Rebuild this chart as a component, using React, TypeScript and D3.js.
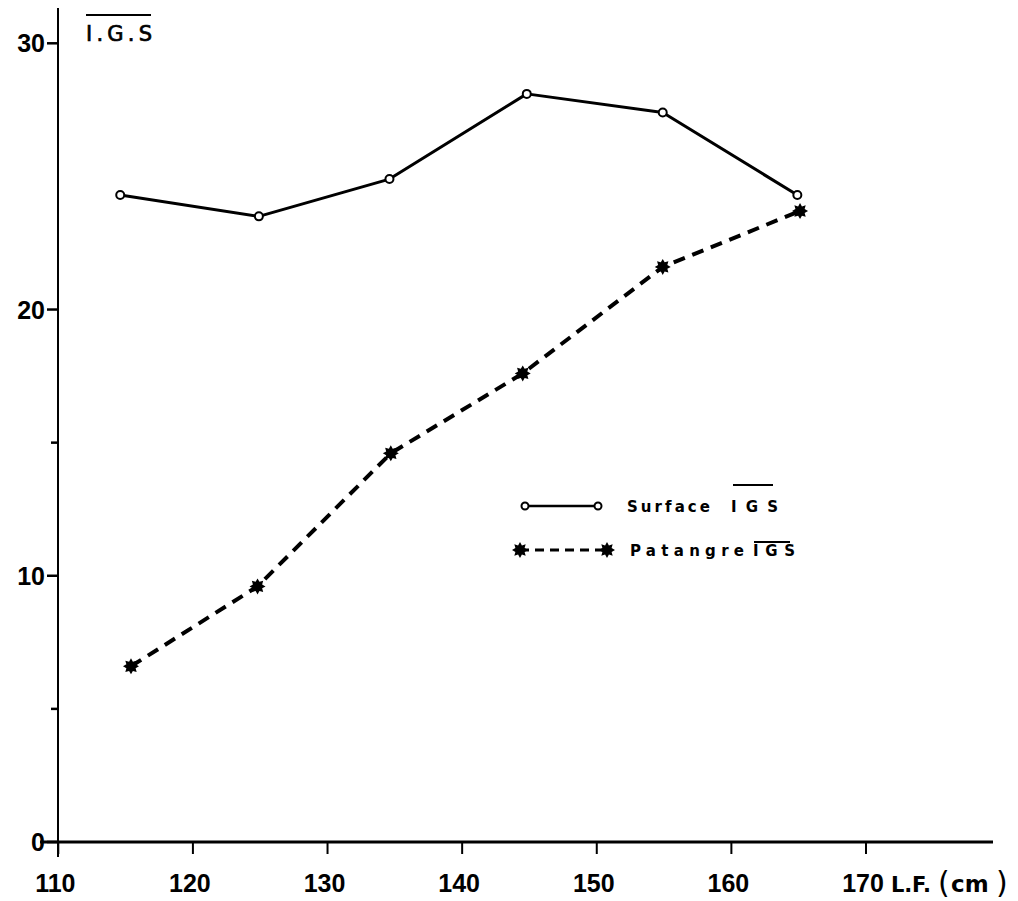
import React from "react";
import * as d3 from "d3";

// Mean gonado-somatic index (I.G.S) by fork length class (L.F, cm)
const surfaceLength = [114.6, 124.9, 134.6, 144.8, 154.9, 164.9];
const surfaceIGS = [24.3, 23.5, 24.9, 28.1, 27.4, 24.3];

const palangreLength = [115.4, 124.8, 134.7, 144.5, 154.9, 165.1];
const palangreIGS = [6.6, 9.6, 14.6, 17.6, 21.6, 23.7];

const xTicks = [110, 120, 130, 140, 150, 160, 170];
const yTicks = [0, 10, 20, 30];
const yMinorTicks = [5, 15];

const W = 1018;
const H = 901;
const FONT = "'DejaVu Sans', 'Liberation Sans', Arial, sans-serif";
const TICK_FONT = "'Liberation Sans', Arial, sans-serif";

// 8-pointed burst used as the longline marker
function burstPath(r: number, inner: number, spikes = 8): string {
  const pts: [number, number][] = [];
  for (let i = 0; i < spikes * 2; i++) {
    const a = (Math.PI * i) / spikes;
    const rr = i % 2 === 0 ? r : inner;
    pts.push([a, rr]);
  }
  return (d3.lineRadial().curve(d3.curveLinearClosed)(pts) as string) || "";
}

export default function App() {
  const x = d3.scaleLinear().domain([110, 170]).range([58.3, 866]);
  const y = d3.scaleLinear().domain([0, 30]).range([842, 43.3]);

  const surfacePts = surfaceLength.map((l, i) => [x(l), y(surfaceIGS[i])] as [number, number]);
  const palangrePts = palangreLength.map((l, i) => [x(l), y(palangreIGS[i])] as [number, number]);
  const line = d3.line();
  const burst = burstPath(8, 5);

  const tickText = {
    fontFamily: TICK_FONT,
    fontWeight: "bold" as const,
    fontSize: 25,
    fill: "#000",
  };

  return (
    <svg
      width={W}
      height={H}
      viewBox={`0 0 ${W} ${H}`}
      style={{ position: "absolute", left: 0, top: 0, background: "#fff" }}
    >
      <rect width={W} height={H} fill="#fff" />

      {/* axes */}
      <line x1={58} y1={8} x2={58} y2={857} stroke="#000" strokeWidth={2} />
      <line x1={40} y1={842} x2={993} y2={842} stroke="#000" strokeWidth={3} />

      {yTicks.map((t) => (
        <g key={`yt${t}`}>
          <line x1={47} x2={58} y1={y(t)} y2={y(t)} stroke="#000" strokeWidth={2.5} />
          <text x={45} y={y(t) + 9} textAnchor="end" {...tickText}>
            {t}
          </text>
        </g>
      ))}
      {yMinorTicks.map((t) => (
        <line key={`ym${t}`} x1={51} x2={58} y1={y(t)} y2={y(t)} stroke="#000" strokeWidth={2.5} />
      ))}

      {xTicks.map((t) => (
        <g key={`xt${t}`}>
          <line x1={x(t)} x2={x(t)} y1={842} y2={854} stroke="#000" strokeWidth={2} />
          <text x={x(t) - 3} y={892} textAnchor="middle" {...tickText}>
            {t}
          </text>
        </g>
      ))}

      {/* x axis title */}
      <text x={891} y={892} fontFamily={FONT} fontWeight="bold" fontSize={21} fill="#000" textLength={40} lengthAdjust="spacing">
        L.F.
      </text>
      <text x={938} y={893} fontFamily={FONT} fontSize={30} fill="#000">
        (
      </text>
      <text x={951} y={892} fontFamily={FONT} fontWeight="bold" fontSize={23} fill="#000">
        cm
      </text>
      <text x={996} y={893} fontFamily={FONT} fontSize={30} fill="#000">
        )
      </text>

      {/* y axis title */}
      <line x1={86} x2={151} y1={15} y2={15} stroke="#000" strokeWidth={2} />
      <text
        x={86}
        y={41}
        fontFamily={FONT}
        fontSize={21}
        fill="#000"
        stroke="#000"
        strokeWidth={0.7}
        textLength={66}
        lengthAdjust="spacing"
      >
        I.G.S
      </text>

      {/* surface series */}
      <path d={line(surfacePts) || ""} fill="none" stroke="#000" strokeWidth={3} strokeLinejoin="round" />
      {surfacePts.map(([cx, cy], i) => (
        <circle key={`s${i}`} cx={cx} cy={cy} r={4} fill="#fff" stroke="#000" strokeWidth={2} />
      ))}

      {/* longline series */}
      <path
        d={line(palangrePts) || ""}
        fill="none"
        stroke="#000"
        strokeWidth={4}
        strokeDasharray="12 8"
      />
      {palangrePts.map(([cx, cy], i) => (
        <path key={`p${i}`} d={burst} transform={`translate(${cx},${cy})`} fill="#000" />
      ))}

      {/* legend */}
      <g>
        <line x1={525} x2={598} y1={506} y2={506} stroke="#000" strokeWidth={2.5} />
        <circle cx={525} cy={506} r={3.5} fill="#fff" stroke="#000" strokeWidth={2} />
        <circle cx={598} cy={506} r={3.5} fill="#fff" stroke="#000" strokeWidth={2} />
        <text x={627} y={512} fontFamily={FONT} fontWeight="bold" fontSize={15} fill="#000" textLength={83} lengthAdjust="spacing">
          Surface
        </text>
        <text x={731} y={512} fontFamily={FONT} fontWeight="bold" fontSize={15} fill="#000" textLength={47} lengthAdjust="spacing">
          IGS
        </text>
        <line x1={733} x2={773} y1={485} y2={485} stroke="#000" strokeWidth={2} />

        <line x1={520} x2={608} y1={550} y2={550} stroke="#000" strokeWidth={3} strokeDasharray="9 6" />
        <path d={burst} transform="translate(520,550)" fill="#000" />
        <path d={burst} transform="translate(607,550)" fill="#000" />
        <text x={630} y={556} fontFamily={FONT} fontWeight="bold" fontSize={15} fill="#000" textLength={114} lengthAdjust="spacing">
          Patangre
        </text>
        <text x={753} y={556} fontFamily={FONT} fontWeight="bold" fontSize={15} fill="#000" textLength={42} lengthAdjust="spacing">
          IGS
        </text>
        <line x1={754} x2={790} y1={542} y2={542} stroke="#000" strokeWidth={2} />
      </g>
    </svg>
  );
}
